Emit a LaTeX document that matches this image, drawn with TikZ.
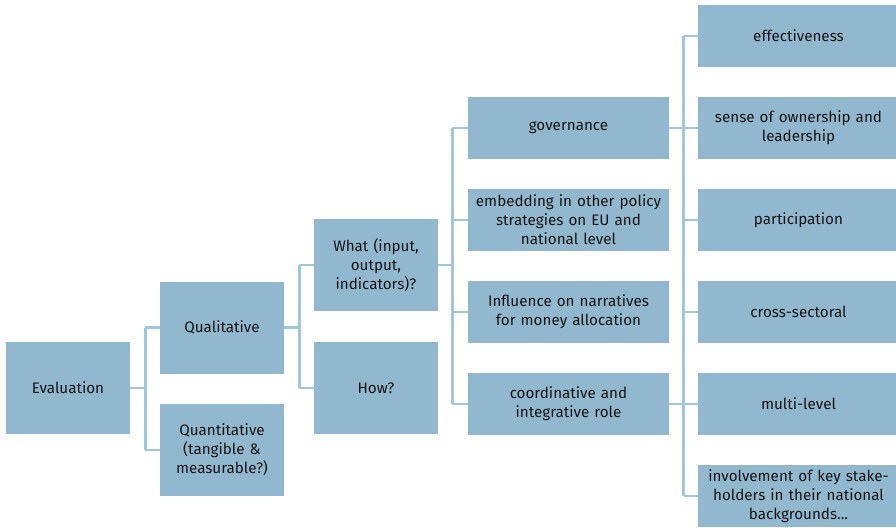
\documentclass[tikz,border=0pt]{standalone}
\usepackage{fontspec}
\setmainfont{Fira Sans}
\usetikzlibrary{calc}
\definecolor{boxfill}{RGB}{145,184,206}
\definecolor{linec}{RGB}{160,200,220}
\definecolor{txt}{RGB}{20,20,20}
\begin{document}
\begin{tikzpicture}[x=1pt,y=-1pt,
  base/.style={fill=boxfill,draw=none,inner sep=2pt,align=center,text=txt,
    font=\fontsize{15.2}{19}\selectfont},
  bigbox/.style={base,minimum width=124pt,minimum height=92pt,text width=120pt},
  widebox/.style={base,minimum width=201pt,minimum height=62pt,text width=197pt},
  conn/.style={draw=linec,line width=2.6pt}]
\useasboundingbox (0,0) rectangle (896,527);
\clip (0,0) rectangle (896,527);
% level 0-2
\node[bigbox] (eval) at (68,388) {Evaluation};
\node[bigbox] (qual) at (222,327.5) {Qualitative};
\node[bigbox] (quant) at (222,450) {Quantitative\\(tangible \&\\measurable?)};
\node[bigbox] (what) at (376,265) {What (input,\\output,\\indicators)?};
\node[bigbox] (how) at (376,388) {How?};
% level 3
\node[widebox] (gov) at (568.5,128) {governance};
\node[widebox] (emb) at (568.5,220) {embedding in other policy\\strategies on EU and\\national level};
\node[widebox] (infl) at (568.5,312) {Influence on narratives\\for money allocation};
\node[widebox] (coord) at (568.5,404) {coordinative and\\integrative role};
% level 4
\node[widebox] (eff) at (798.5,36) {effectiveness};
\node[widebox] (sense) at (798.5,128) {sense of ownership and\\leadership};
\node[widebox] (part) at (798.5,220) {participation};
\node[widebox] (cross) at (798.5,312) {cross-sectoral};
\node[widebox] (multi) at (798.5,404) {multi-level};
\node[widebox] (inv) at (798.5,496) {involvement of key stake-\\holders in their national\\backgrounds...};
% connectors
\coordinate (j0) at ($(eval.east)+(15,0)$);
\draw[conn] (eval.east) -- (j0);
\draw[conn] (j0 |- qual.west) -- (j0 |- quant.west);
\draw[conn] (j0 |- qual.west) -- (qual.west);
\draw[conn] (j0 |- quant.west) -- (quant.west);
\coordinate (j1) at ($(qual.east)+(15,0)$);
\draw[conn] (qual.east) -- (j1);
\draw[conn] (j1 |- what.west) -- (j1 |- how.west);
\draw[conn] (j1 |- what.west) -- (what.west);
\draw[conn] (j1 |- how.west) -- (how.west);
\coordinate (j2) at ($(what.east)+(14,0)$);
\draw[conn] (what.east) -- (j2);
\draw[conn] (j2 |- gov.west) -- (j2 |- coord.west);
\foreach \n in {gov,emb,infl,coord} \draw[conn] (j2 |- \n.west) -- (\n.west);
\coordinate (j3) at ($(gov.east)+(14.5,0)$);
\coordinate (j4) at ($(coord.east)+(14.5,0)$);
\draw[conn] (gov.east) -- (j3);
\draw[conn] (coord.east) -- (j4);
\draw[conn] (j3 |- eff.west) -- (j3 |- inv.west);
\foreach \n in {eff,sense,part,cross,multi,inv} \draw[conn] (j3 |- \n.west) -- (\n.west);
\end{tikzpicture}
\end{document}
